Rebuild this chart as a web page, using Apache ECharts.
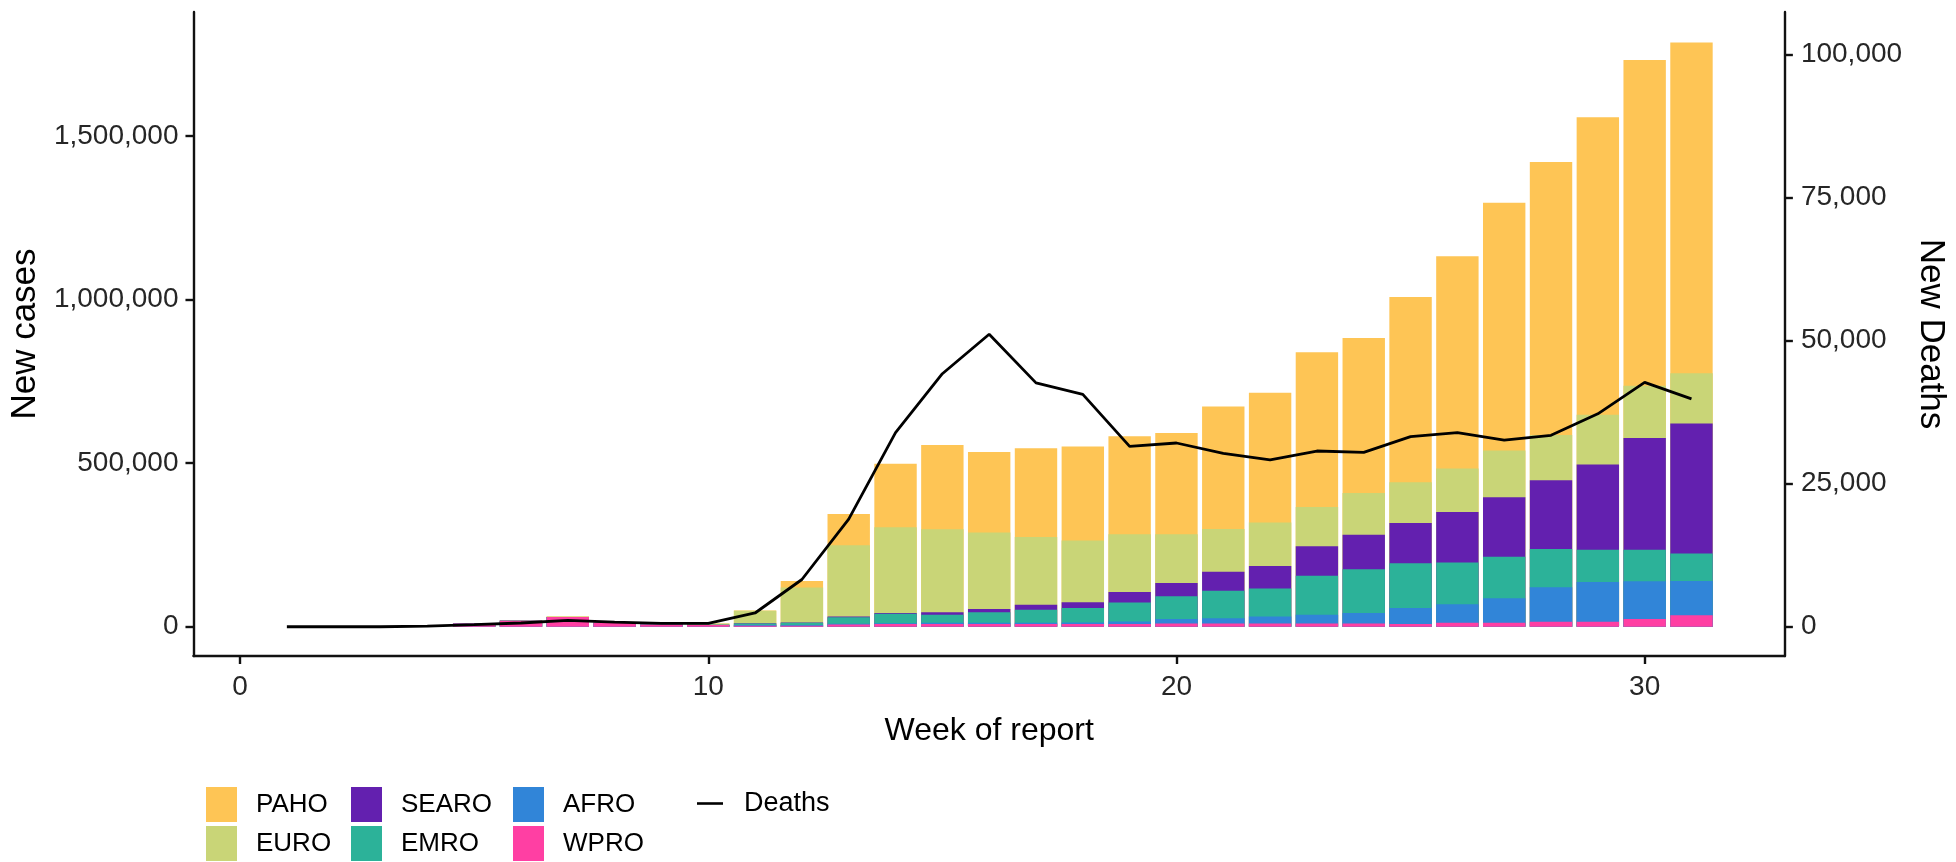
<!DOCTYPE html>
<html>
<head>
<meta charset="utf-8">
<script src="https://cdn.jsdelivr.net/npm/echarts@6/dist/echarts.min.js"></script>
<style>
html,body{margin:0;padding:0;background:#fff;}
#chart{width:1956px;height:862px;}
</style>
</head>
<body>
<div id="chart"></div>
<script>
// ---- data ----
const weeks = [1,2,3,4,5,6,7,8,9,10,11,12,13,14,15,16,17,18,19,20,21,22,23,24,25,26,27,28,29,30,31];
const WPRO  = [0,0,0,0,10000,18000,30000,12000,7000,5000,3000,3000,7000,8000,8000,8000,8000,8000,8000,10000,10000,10000,10000,10000,8000,12000,12000,15000,15000,24000,35000];
const AFRO  = [0,0,0,0,0,0,0,0,0,0,2000,2000,2000,3000,4000,4000,4000,5000,8000,14000,16000,21000,27000,32000,49000,57000,75000,106000,122000,115000,105000];
const EMRO  = [0,0,0,0,0,0,0,0,0,1000,5000,7000,20000,29000,25000,32000,40000,44000,58000,69000,84000,86000,119000,134000,137000,127000,127000,117000,98000,96000,84000];
const SEARO = [0,0,0,0,0,0,0,0,0,0,500,1000,2000,2000,7000,10000,15000,18000,32000,41000,58000,69000,90000,105000,123000,155000,182000,210000,261000,342000,397000];
const EURO  = [0,0,0,0,0,2000,1000,1000,1000,4000,38000,107000,218000,262000,254000,234000,207000,189000,177000,149000,131000,133000,120000,128000,125000,133000,143000,138000,152000,160000,154000];
const PAHO  = [0,0,0,0,0,0,0,0,0,0,1000,20000,96000,194000,258000,246000,272000,287000,299000,309000,374000,396000,473000,474000,566000,649000,757000,835000,910000,996000,1011000];
const deaths = [0,0,0,100,350,650,1100,800,600,600,2400,8250,18800,33900,44200,51100,42600,40600,31500,32100,30300,29150,30700,30450,33200,33900,32600,33450,37200,42700,39800];

const xTicks = [0,10,20,30];
const casesTicks = [0,500000,1000000,1500000];
const deathsTicks = [0,25000,50000,75000,100000];

// stack order from bottom to top
const stackOrder = ['WPRO','AFRO','EMRO','SEARO','EURO','PAHO'];
const regionData = {WPRO, AFRO, EMRO, SEARO, EURO, PAHO};
const regionColors = {PAHO:'#FEC555', EURO:'#C9D577', SEARO:'#6320AF', EMRO:'#2CB299', AFRO:'#3185D8', WPRO:'#FF3FA3'};

// axis scaling (ggplot expansion and secondary-axis factor)
const casesMin = -89500, casesMax = 1879500;
const secFactor = 17.5;

const FONT = '"Liberation Sans", Arial, sans-serif';
const fmt = v => Math.round(v).toLocaleString('en-US');

const chart = echarts.init(document.getElementById('chart'), null, {renderer:'canvas'});

// cumulative tops of each stacked segment
const cumTop = {};
let running = weeks.map(() => 0);
stackOrder.forEach(name => {
  running = running.map((v, i) => v + regionData[name][i]);
  cumTop[name] = running.slice();
});

// draw from the top segment down so lower segments paint over
const barSeries = stackOrder.slice().reverse().map(name => ({
  name: name,
  type: 'bar',
  xAxisIndex: 0,
  yAxisIndex: 0,
  barWidth: 42.4,
  barGap: '-100%',
  itemStyle: {color: regionColors[name]},
  emphasis: {disabled: true},
  data: weeks.map((w, i) => [w, cumTop[name][i]])
}));

const lineSeries = {
  name: 'Deaths',
  type: 'line',
  xAxisIndex: 0,
  yAxisIndex: 1,
  symbol: 'none',
  color: '#000',
  itemStyle: {color: '#000'},
  lineStyle: {color: '#000', width: 2.8},
  z: 10,
  data: weeks.map((w, i) => [w, deaths[i]])
};

const axisLineStyle = {color: '#111', width: 2.4};
const tickLabel = {fontFamily: FONT, fontSize: 28, color: '#262626'};
const xTitleStyle = {fontFamily: FONT, fontSize: 32, color: '#000'};
const yTitleStyle = {fontFamily: FONT, fontSize: 35, color: '#000'};

const legendBase = {
  orient: 'vertical',
  padding: 0,
  itemWidth: 31,
  itemHeight: 35,
  itemGap: 4,
  icon: 'rect',
  selectedMode: false,
  textStyle: {fontFamily: FONT, fontSize: 26, color: '#000', padding: [0,0,0,14]}
};

chart.setOption({
  animation: false,
  backgroundColor: '#fff',
  grid: {left: 189, right: 166, top: 12, bottom: 206, containLabel: false},
  xAxis: {
    type: 'value',
    min: -0.995,
    max: 32.995,
    name: 'Week of report',
    nameLocation: 'middle',
    nameGap: 59,
    nameTextStyle: xTitleStyle,
    axisLine: {show: true, onZero: false, lineStyle: axisLineStyle},
    axisTick: {show: true, length: 8, lineStyle: axisLineStyle, customValues: xTicks},
    axisLabel: Object.assign({margin: 17, customValues: xTicks}, tickLabel),
    splitLine: {show: false}
  },
  yAxis: [
    {
      type: 'value',
      position: 'left',
      min: casesMin,
      max: casesMax,
      name: 'New cases',
      nameLocation: 'middle',
      nameGap: 126,
      nameRotate: 90,
      nameTextStyle: yTitleStyle,
      axisLine: {show: true, onZero: false, lineStyle: axisLineStyle},
      axisTick: {show: true, length: 8, lineStyle: axisLineStyle, customValues: casesTicks},
      axisLabel: Object.assign({margin: 15, customValues: casesTicks, formatter: fmt}, tickLabel),
      splitLine: {show: false}
    },
    {
      type: 'value',
      position: 'right',
      min: casesMin / secFactor,
      max: casesMax / secFactor,
      name: 'New Deaths',
      nameLocation: 'middle',
      nameGap: 106,
      nameRotate: -90,
      nameTextStyle: yTitleStyle,
      axisLine: {show: true, onZero: false, lineStyle: axisLineStyle},
      axisTick: {show: true, length: 8, lineStyle: axisLineStyle, customValues: deathsTicks},
      axisLabel: Object.assign({margin: 16, customValues: deathsTicks, formatter: fmt}, tickLabel),
      splitLine: {show: false}
    }
  ],
  legend: [
    Object.assign({}, legendBase, {left: 206, top: 787, data: ['PAHO','EURO']}),
    Object.assign({}, legendBase, {left: 351, top: 787, data: ['SEARO','EMRO']}),
    Object.assign({}, legendBase, {left: 513, top: 787, data: ['AFRO','WPRO']}),
    Object.assign({}, legendBase, {left: 697, top: 790, itemWidth: 26, itemHeight: 2.6, icon: 'rect',
      textStyle: {fontFamily: FONT, fontSize: 27, color: '#000', padding: [0,0,0,16]}, data: ['Deaths']})
  ],
  series: barSeries.concat([lineSeries])
});
</script>
</body>
</html>
